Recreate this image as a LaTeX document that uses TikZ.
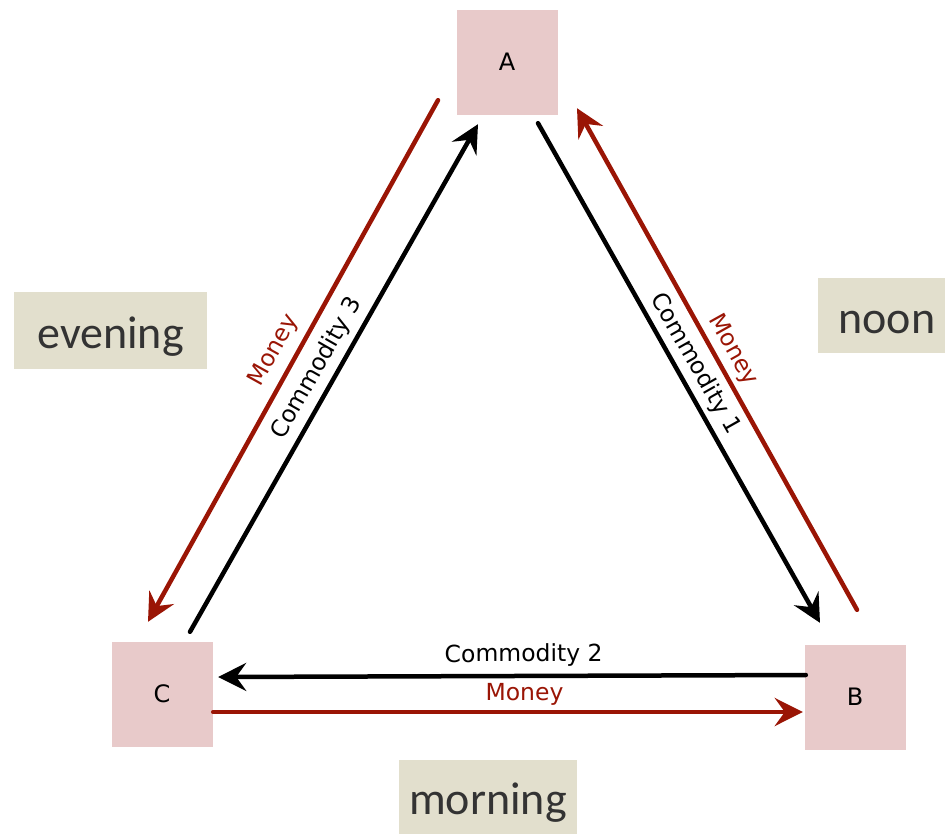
\documentclass[tikz,border=0pt]{standalone}
\usepackage{fontspec}
\setmainfont{DejaVu Sans}
\newfontfamily\periodfont{Carlito}
\usetikzlibrary{arrows.meta,calc}
\definecolor{agentpink}{HTML}{E8CACA}
\definecolor{timebeige}{HTML}{E2DFCD}
\definecolor{moneyred}{HTML}{9A1505}
\definecolor{timetext}{HTML}{333333}
\begin{document}
\begin{tikzpicture}[x=1pt,y=-1pt,
  agent/.style={fill=agentpink, minimum width=101pt, minimum height=105pt,
    inner sep=0pt, font=\fontsize{24}{26}\selectfont},
  period/.style={fill=timebeige, inner sep=0pt, text=timetext,
    text height=36pt, text depth=0pt,
    font=\periodfont\fontsize{46}{50}\selectfont},
  flow/.style={line width=4.5pt, line cap=round,
    -{Stealth[length=28pt,width=28pt,inset=10pt]}},
  goods/.style={flow, black},
  cash/.style={flow, moneyred},
  lbl/.style={font=\fontsize{23.5}{26}\selectfont, sloped, inner sep=0pt},
]
\useasboundingbox (0,0) rectangle (945,835);
\clip (0,0) rectangle (945,835);

% the three traders
\node[agent] (A) at (507,62) {A};
\node[agent] (B) at (855,697) {B};
\node[agent] (C) at (162,694) {C};

% times of day
\node[period, minimum width=193pt, minimum height=77pt] (evening) at (110.5,330.5) {evening};
\node[period, minimum width=138pt, minimum height=75pt] (noon) at (887,315.5) {noon};
\node[period, minimum width=178pt, minimum height=74pt] (morning) at (488,796.5) {morning};

% A and C trade in the evening
\draw[goods] ($(C.north)+(28,-9.5)$) -- ($(A.south)+(-29,9.5)$)
  node[lbl, pos=0.5, above=6pt] {Commodity 3};
\draw[cash] ($(A.south)+(-69,-14.5)$) -- ($(C.north)+(-14,-19.5)$)
  node[lbl, text=moneyred, pos=0.5, above=8pt] {Money};

% A and B trade at noon
\draw[goods] ($(A.south)+(31,8.5)$) -- ($(B.north)+(-35,-21.5)$)
  node[lbl, pos=0.5, above=5pt] {Commodity 1};
\draw[cash] ($(B.north)+(2,-34.5)$) -- ($(A.south)+(70,-6.5)$)
  node[lbl, text=moneyred, pos=0.5, above=5pt] {Money};

% B and C trade in the morning
\draw[goods] ($(B.west)+(1.5,-22)$) -- ($(C.east)+(5.5,-17)$)
  node[lbl, pos=0.48, above=7pt] {Commodity 2};
\draw[cash] ($(C.east)+(0.5,18)$) -- ($(B.west)+(-1.5,15)$)
  node[lbl, text=moneyred, pos=0.528, above=4pt] {Money};
\end{tikzpicture}
\end{document}
